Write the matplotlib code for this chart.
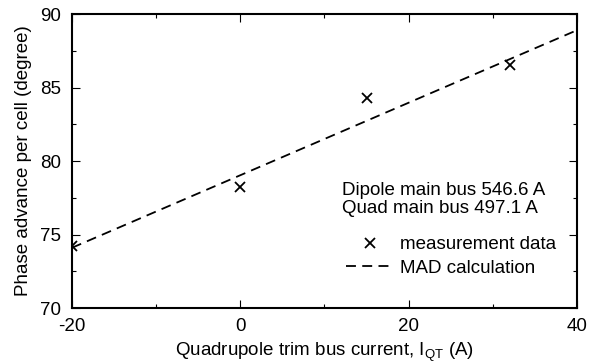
import matplotlib
matplotlib.use('Agg')
import matplotlib.pyplot as plt
import numpy as np
from matplotlib.ticker import MultipleLocator
from matplotlib.legend_handler import HandlerLine2D

# measured phase advance vs trim bus current
meas_current = [-20, 0, 15, 32]
meas_phase = [74.2, 78.25, 84.3, 86.5]

# MAD calculation (straight line)
mad_current = [-20, 40]
mad_phase = [74.1, 88.9]


class RightMarker(HandlerLine2D):
    # put the legend marker near the right end of the handle box
    def get_xdata(self, legend, xdescent, ydescent, width, height, fontsize):
        xdata, _ = super().get_xdata(legend, xdescent, ydescent, width, height, fontsize)
        return xdata, np.array([-xdescent + width * 0.88])


plt.rcParams['font.family'] = ['Liberation Sans', 'DejaVu Sans']
plt.rcParams['font.size'] = 13.5
plt.rcParams['axes.unicode_minus'] = False

fig = plt.figure(figsize=(5.97, 3.64), dpi=100)
ax = fig.add_axes([0.1206, 0.1538, 0.8459, 0.8077])

ax.plot(mad_current, mad_phase, color='black', linestyle=(0, (5.5, 3.5)),
        linewidth=1.3, label='MAD calculation', zorder=2)
ax.plot(meas_current, meas_phase, linestyle='none', marker='x', color='black',
        markersize=7, markeredgewidth=1.3, label='measurement data', zorder=3)

ax.set_xlim(-20, 40)
ax.set_ylim(70, 90)
ax.xaxis.set_major_locator(MultipleLocator(20))
ax.xaxis.set_minor_locator(MultipleLocator(10))
ax.yaxis.set_major_locator(MultipleLocator(5))
ax.yaxis.set_minor_locator(MultipleLocator(2.5))
ax.tick_params(which='both', direction='in', top=True, right=True, width=0.8)
ax.tick_params(which='major', length=6)
ax.tick_params(which='minor', length=3)
ax.tick_params(axis='x', which='major', pad=7)
ax.tick_params(axis='y', which='major', pad=8)
for s in ax.spines.values():
    s.set_linewidth(1.5)

ax.set_xlabel('Quadrupole trim bus current, I$_{\\mathregular{QT}}$ (A)', labelpad=4)
ax.set_ylabel('Phase advance per cell (degree)', labelpad=6)

ax.text(0.535, 0.401, 'Dipole main bus 546.6 A', transform=ax.transAxes,
        ha='left', va='center')
ax.text(0.535, 0.340, 'Quad main bus 497.1 A', transform=ax.transAxes,
        ha='left', va='center')

h, l = ax.get_legend_handles_labels()
ax.legend(h[::-1], l[::-1], loc='center left', bbox_to_anchor=(0.528, 0.175),
          frameon=False, handlelength=2.5, handletextpad=0.35,
          labelspacing=0.35, borderaxespad=0,
          handler_map={h[1]: RightMarker()})

fig.savefig('out.png', dpi=100)
